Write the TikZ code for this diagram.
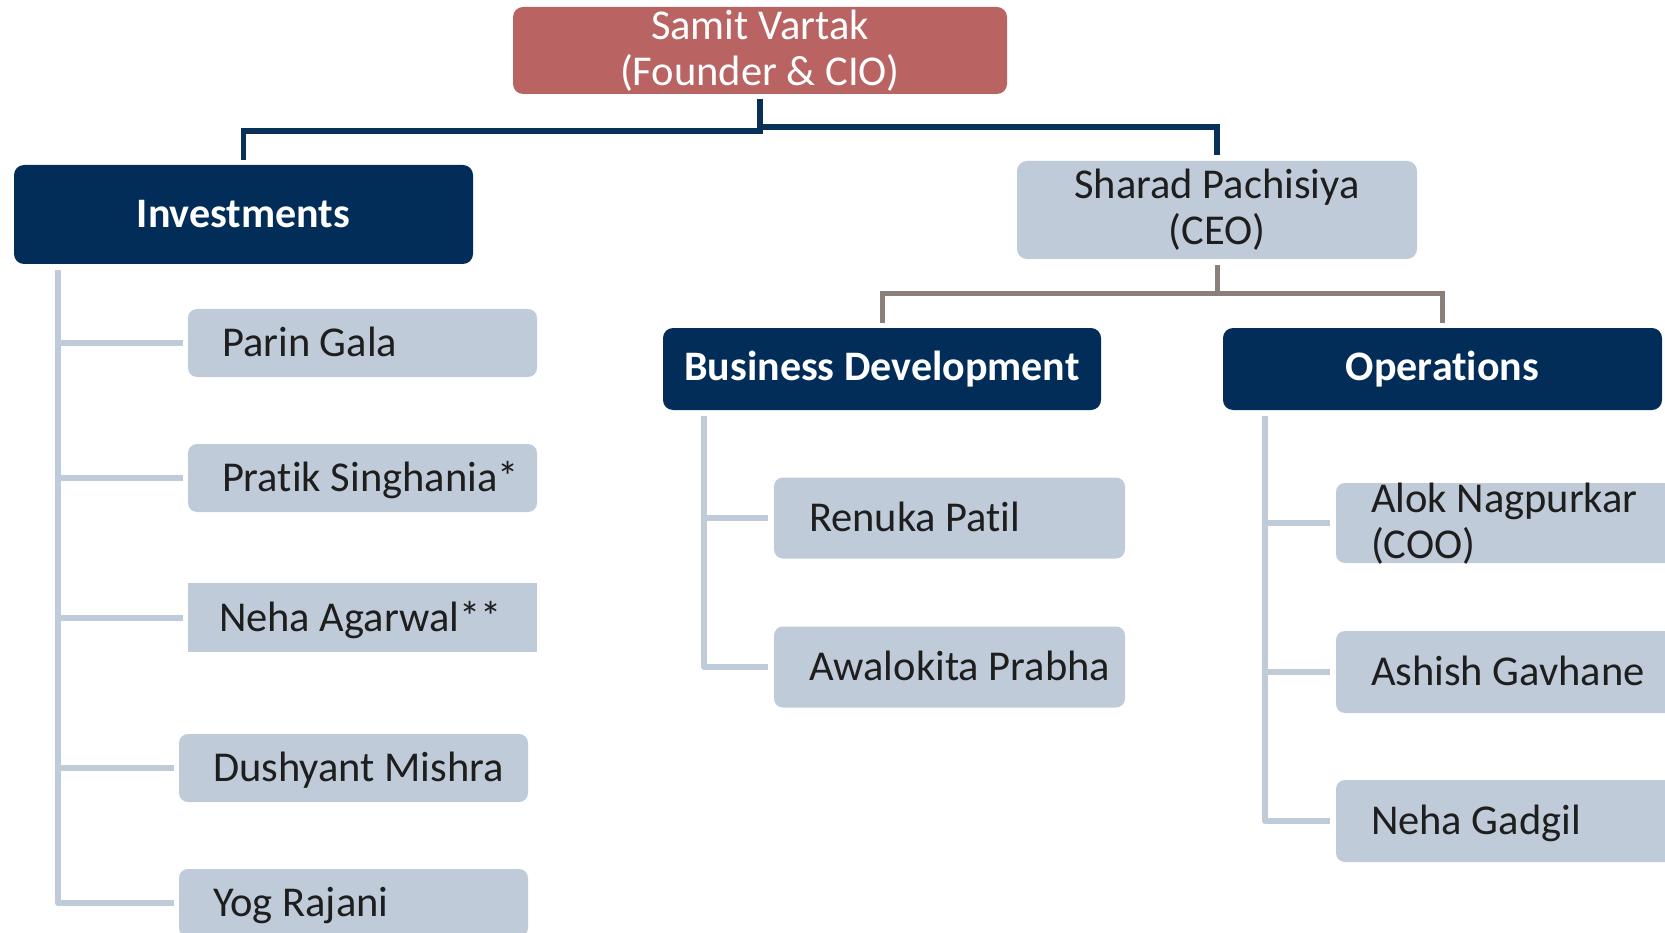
\documentclass[tikz,border=0pt]{standalone}
\usepackage{fontspec}
\setmainfont{Carlito}[Ligatures=NoCommon]
\definecolor{navy}{RGB}{2,45,88}
\definecolor{navyline}{RGB}{8,48,88}
\definecolor{rosebox}{RGB}{186,99,99}
\definecolor{paleblue}{RGB}{191,203,216}
\definecolor{taupe}{RGB}{139,127,121}
\definecolor{ink}{RGB}{30,30,30}
\begin{document}
\begin{tikzpicture}[x=1pt,y=-1pt,
  every node/.style={inner sep=0pt, outer sep=0pt},
  founder/.style={rectangle, rounded corners=10pt, fill=rosebox, text=white, align=center,
    font=\fontsize{42.5}{46}\selectfont},
  ceo/.style={rectangle, rounded corners=10pt, fill=paleblue, text=ink, align=center,
    font=\fontsize{42.5}{46}\selectfont},
  dept/.style={rectangle, rounded corners=10pt, fill=navy, text=white,
    font=\fontsize{42}{46}\selectfont\bfseries},
  person/.style={rectangle, rounded corners=9pt, fill=paleblue, text=ink, align=left,
    inner xsep=#1, text width=281pt, text height=32pt, text depth=5pt,
    font=\fontsize{42.5}{46}\selectfont,
    execute at begin node={\spaceskip=0pt\xspaceskip=0pt\hyphenpenalty=10000\exhyphenpenalty=10000}},
  person/.default=34pt,
  topline/.style={draw=navyline, line width=5.5pt},
  ceoline/.style={draw=taupe, line width=5pt},
  branch/.style={draw=paleblue, line width=6pt, line join=round},
]
\useasboundingbox (0,0) rectangle (1665,933);
\clip (0,0) rectangle (1665,933);

% top level
\node[founder, minimum width=494pt, minimum height=87pt] (samit) at (760,50.5)
  {Samit Vartak\\(Founder \& CIO)};
\node[dept, minimum width=459pt, minimum height=99pt] (invest) at (243.5,214.5) {Investments};
\node[ceo, minimum width=400pt, minimum height=98pt] (sharad) at (1217,210)
  {Sharad Pachisiya\\(CEO)};
\node[dept, minimum width=438pt, minimum height=82pt] (bd) at (882,369) {Business Development};
\node[dept, minimum width=439pt, minimum height=82pt] (ops) at (1442.5,369) {Operations};

% investments team
\node[person, minimum height=68pt] (parin) at (362.5,343) {\mbox{Parin Gala}};
\node[person, minimum height=68pt] (pratik) at (362.5,478) {\mbox{Pratik Singhania*}};
\node[person=31pt, text width=287pt, sharp corners, minimum height=69pt] (nehaa) at (362.5,617.5) {\mbox{Neha Agarwal**}};
\node[person, minimum height=68pt] (dushyant) at (353.5,768) {\mbox{Dushyant Mishra}};
\node[person, minimum height=68pt] (yog) at (353.5,903) {\mbox{Yog Rajani}};

% business development team
\node[person=35pt, minimum height=81pt] (renuka) at (949.5,518) {\mbox{Renuka Patil}};
\node[person=35pt, minimum height=81pt] (awal) at (949.5,667) {\mbox{Awalokita Prabha}};

% operations team
\node[person=35pt, text height=29pt, text depth=51pt] (alok) at (1511.5,523)
  {\mbox{Alok Nagpurkar}\\(COO)};
\node[person=35pt, minimum height=82pt] (ashish) at (1511.5,672) {\mbox{Ashish Gavhane}};
\node[person=35pt, minimum height=82pt] (nehag) at (1511.5,821) {\mbox{Neha Gadgil}};

% founder connectors
\coordinate (hubL) at (760,131);
\coordinate (hubR) at (760,127);
\draw[topline] ([yshift=-5pt]samit.south) -- (hubL) -| ([yshift=5pt]invest.north);
\draw[topline] (hubR) -| ([yshift=6pt]sharad.north);

% ceo connectors
\coordinate (hubC) at (1217,294);
\draw[ceoline] ([yshift=-6pt]sharad.south) -- (hubC);
\draw[ceoline] ([yshift=5pt]bd.north) |- (hubC) -| ([yshift=5pt]ops.north);

% investments branches
\coordinate (iv) at (58,270);
\draw[branch] (iv) |- ([xshift=-5pt]yog.west);
\draw[branch] (iv |- parin.west) -- ([xshift=-5pt]parin.west);
\draw[branch] (iv |- pratik.west) -- ([xshift=-5pt]pratik.west);
\draw[branch] (iv |- nehaa.west) -- ([xshift=-5pt]nehaa.west);
\draw[branch] (iv |- dushyant.west) -- ([xshift=-5pt]dushyant.west);

% business development branches
\coordinate (bv) at (704,416);
\draw[branch] (bv) |- ([xshift=-6pt]awal.west);
\draw[branch] (bv |- renuka.west) -- ([xshift=-6pt]renuka.west);

% operations branches
\coordinate (ov) at (1265,416);
\draw[branch] (ov) |- ([xshift=-6pt]nehag.west);
\draw[branch] (ov |- alok.west) -- ([xshift=-6pt]alok.west);
\draw[branch] (ov |- ashish.west) -- ([xshift=-6pt]ashish.west);
\end{tikzpicture}
\end{document}
